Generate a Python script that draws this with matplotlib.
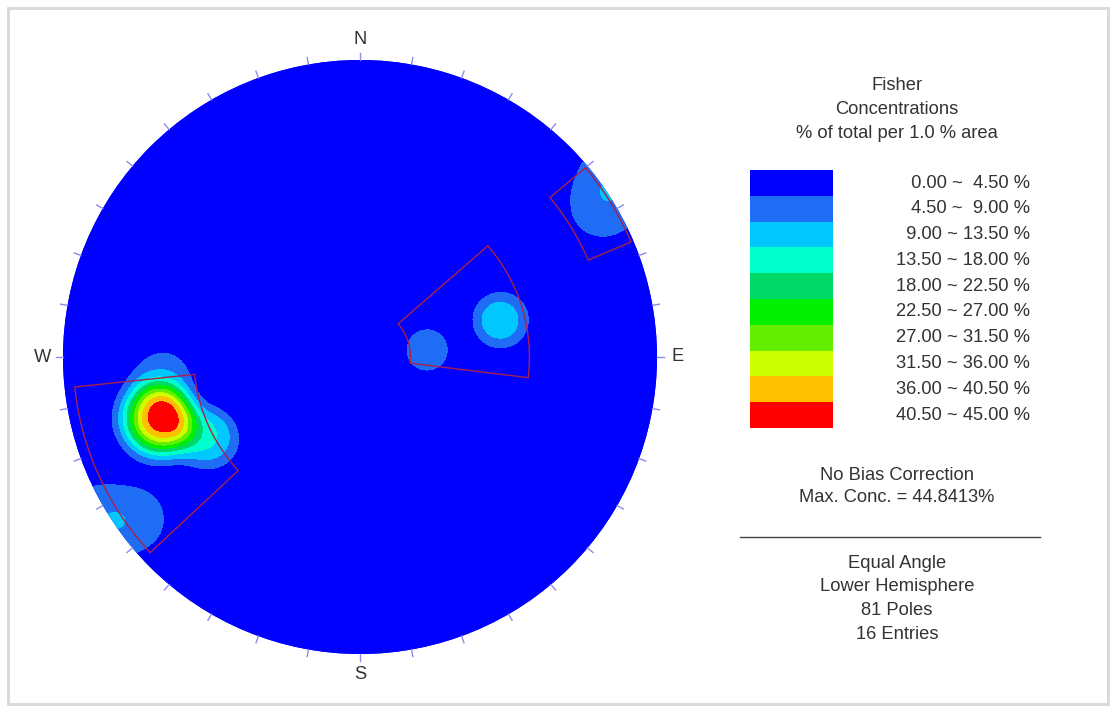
import numpy as np
import matplotlib
matplotlib.use("Agg")
import matplotlib.pyplot as plt
from matplotlib.colors import ListedColormap, BoundaryNorm
from matplotlib.patches import Circle, Rectangle

plt.rcParams['font.family'] = ['Liberation Sans', 'DejaVu Sans']

# pole entries: trend / plunge in degrees, quantity of poles per entry
trends = [253, 251, 255, 252, 244, 240, 262, 266, 84, 75, 76, 58, 61, 236, 234, 232]
plunges = [20, 21, 19, 18, 29, 31, 24, 22, 64.5, 38, 38.5, 3.5, 6, 2, 3, 8]
quantities = [16, 9, 7, 4, 7, 5, 3, 3, 7, 7, 3, 3, 1, 3, 1, 2]
fisher_sigma = 3.0      # spread of each pole, degrees
count_area = 0.01       # counting circle, fraction of hemisphere
max_conc = 44.8413

levels = [0, 4.5, 9, 13.5, 18, 22.5, 27, 31.5, 36, 40.5, 45]
level_colors = ['#0000ff', '#1f6cf5', '#00c8ff', '#00ffcc', '#00d868',
                '#00f000', '#66ee00', '#ccff00', '#ffc000', '#ff0000']

# set windows (pole trend range / plunge range)
win_trend_lo = [227, 49, 50]
win_trend_hi = [264, 97, 67]
win_plunge_lo = [2, 30.6, 0.5]
win_plunge_hi = [31.5, 70.7, 10.3]

W, H = 1113, 708
CX, CY, R = 360, 357, 297
FS = 13.2
TXT = '#333333'


def project(trend, plunge):
    # equal angle, lower hemisphere
    t = np.radians(trend)
    r = np.tan(np.radians(90 - np.asarray(plunge)) / 2)
    return r * np.sin(t), r * np.cos(t)


def cap_fraction(sigma, alpha):
    # share of a pole's spread falling inside a counting circle whose centre is theta away
    nr, nphi = 60, 120
    rk = (np.arange(nr) + 0.5) / nr * alpha
    pk = (np.arange(nphi) + 0.5) / nphi * 2 * np.pi
    rr, pp = np.meshgrid(rk, pk)
    px, py = rr * np.cos(pp), rr * np.sin(pp)
    wts = rr * (alpha / nr) * (2 * np.pi / nphi)
    thetas = np.linspace(0, 0.6, 301)
    frac = [np.sum(wts * np.exp(-((px - th) ** 2 + py ** 2) / (2 * sigma ** 2)))
            / (2 * np.pi * sigma ** 2) for th in thetas]
    return thetas, np.array(frac)


def concentration(gx, gy):
    rr = np.hypot(gx, gy)
    phi = 2 * np.arctan(rr)
    az = np.arctan2(gx, gy)
    g = np.stack([np.sin(phi) * np.sin(az), np.sin(phi) * np.cos(az), np.cos(phi)], -1)
    t = np.radians(trends)
    p = np.radians(plunges)
    v = np.stack([np.cos(p) * np.sin(t), np.cos(p) * np.cos(t), np.sin(p)], -1)
    ang = np.arccos(np.clip(np.abs(g @ v.T), 0, 1))
    alpha = np.arccos(1 - count_area)
    th_tab, fr_tab = cap_fraction(np.radians(fisher_sigma), alpha)
    share = np.interp(ang, th_tab, fr_tab, right=0.0)
    return 100.0 * (share * np.asarray(quantities)).sum(-1) / sum(quantities)


fig = plt.figure(figsize=(W / 100, H / 100), dpi=100)

# page layer in pixel units
lay = fig.add_axes([0, 0, 1, 1])
lay.set_xlim(0, W)
lay.set_ylim(H, 0)
lay.axis('off')
lay.add_patch(Rectangle((8, 8), 1100, 696, fill=False, ec='#d8d8d8', lw=2))

for j, s in enumerate(["Fisher", "Concentrations", "% of total per 1.0 % area"]):
    lay.text(897, 86 + j * 23.5, s, ha='center', va='center', fontsize=FS, color=TXT)

sw_h = 25.8
for i, (lo, hi) in enumerate(zip(levels[:-1], levels[1:])):
    lay.bar(791.5, sw_h, width=83, bottom=170 + i * sw_h, color=level_colors[i], lw=0)
    lay.text(1030, 183 + i * sw_h, f"{lo:5.2f} ~ {hi:5.2f} %", ha='right', va='center',
             fontsize=FS, color=TXT)

lay.text(897, 475, "No Bias Correction", ha='center', va='center', fontsize=FS, color=TXT)
lay.text(897, 498, f"Max. Conc. = {max_conc:.4f}%", ha='center', va='center', fontsize=FS, color=TXT)
lay.plot([740, 1040], [537, 537], color='#444444', lw=1)
info = ["Equal Angle", "Lower Hemisphere", f"{sum(quantities)} Poles", f"{len(trends)} Entries"]
for j, s in enumerate(info):
    lay.text(897, 563 + j * 23.7, s, ha='center', va='center', fontsize=FS, color=TXT)

# stereonet
span = 1.15
ax = fig.add_axes([(CX - span * R) / W, (H - CY - span * R) / H, 2 * span * R / W, 2 * span * R / H])
ax.set_xlim(-span, span)
ax.set_ylim(-span, span)
ax.axis('off')
ax.patch.set_alpha(0)

gx, gy = np.meshgrid(np.linspace(-1, 1, 301), np.linspace(-1, 1, 301))
conc = concentration(gx, gy)
inside = np.hypot(gx, gy) <= 1.0
# pin the peak to the reported maximum concentration
conc = conc * max_conc / conc[inside].max()

rim = Circle((0, 0), 1.0, transform=ax.transData)
ax.add_patch(Circle((0, 0), 1.0, color=level_colors[0], lw=0))
cs = ax.contourf(gx, gy, conc, levels=levels, cmap=ListedColormap(level_colors),
                 norm=BoundaryNorm(levels, len(level_colors)))
cs.set_clip_path(rim)

for az in range(0, 360, 10):
    a = np.radians(az)
    ax.plot([np.sin(a), 1.024 * np.sin(a)], [np.cos(a), 1.024 * np.cos(a)], color='#8c8cf0', lw=1)

for lab, az in zip("NESW", [0, 90, 180, 270]):
    a = np.radians(az)
    ax.text(1.068 * np.sin(a), 1.068 * np.cos(a), lab, ha='center', va='center', fontsize=FS, color=TXT)

for t0, t1, p0, p1 in zip(win_trend_lo, win_trend_hi, win_plunge_lo, win_plunge_hi):
    ts = np.linspace(t0, t1, 60)
    tt = np.concatenate([ts, ts[::-1], [t0]])
    pp = np.concatenate([np.full(60, p0), np.full(60, p1), [p0]])
    x, y = project(tt, pp)
    ax.plot(x, y, color='#a8204c', lw=1)

fig.savefig("out.png", dpi=100)
